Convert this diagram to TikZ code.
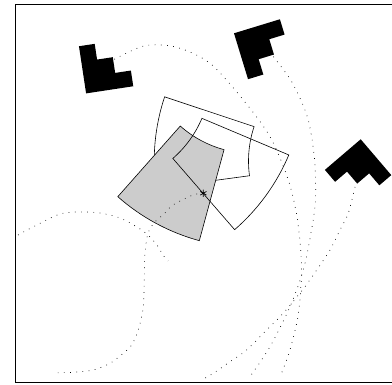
\documentclass[tikz,border=0pt]{standalone}
\usetikzlibrary{plotmarks}

\tikzset{
  fov/.style={draw=black,line width=0.6pt},
  seen/.style={fov,fill=black!20},
  trail/.style={black,line width=0.7pt,dash pattern=on 0.7pt off 5.5pt},
  robot/.pic={\fill (0,0) -- (3,0) -- (3,1) -- (2,1) -- (2,2) -- (1,2) -- (1,3) -- (0,3) -- cycle;}
}

\begin{document}
\begin{tikzpicture}[x=1pt,y=1pt]
  \useasboundingbox (0,0) rectangle (392,385);
  \clip (0,0) rectangle (392,385);
  \draw[line width=0.9pt] (15.3,2.7) rectangle (400,380.7);

  % sensor origin of each robot, and the goal
  \coordinate (r1) at (101.2,309.1);
  \coordinate (r2) at (252.7,340.8);
  \coordinate (r3) at (357.8,223.9);
  \coordinate (goal) at (203.3,191.7);

  % fields of view
  \draw[fov,shift={(r3)}] (161.6:109.3pt) -- (161.6:203.6pt) arc[start angle=161.6,end angle=187.7,radius=203.6pt]
    -- (187.7:109.3pt) arc[start angle=187.7,end angle=161.6,radius=109.3pt] -- cycle;
  \draw[seen,shift={(r2)}] (-131.5:109.3pt) -- (-131.5:203.6pt) arc[start angle=-131.5,end angle=-105.2,radius=203.6pt]
    -- (-105.2:109.3pt) arc[start angle=-105.2,end angle=-131.5,radius=109.3pt] -- cycle;
  \draw[fov,shift={(r1)}] (-49.05:109.3pt) -- (-49.05:203.6pt) arc[start angle=-49.05,end angle=-22.85,radius=203.6pt]
    -- (-22.85:109.3pt) arc[start angle=-22.85,end angle=-49.05,radius=109.3pt] -- cycle;

  % robots
  \pic[rotate=8.6,scale=15.9] at (86.1,291.6) {robot};
  \pic[rotate=-73,scale=16] at (234,351.7) {robot};
  \pic[rotate=220.5,scale=15.7] at (360.7,245.7) {robot};

  % trajectories
  \draw[trail] plot[smooth] coordinates {(114.3,325.7) (145,339.3) (176.7,337.7) (210,321.7) (243.3,285)
    (270,248.3) (288.3,205) (297.5,165) (301.5,118) (298.5,72) (290,35) (280,8)};
  \draw[trail] plot[smooth] coordinates {(273.3,328.3) (291.7,303.3) (307.3,268.3) (314.3,228.3) (315.5,185)
    (311,152) (303.3,115) (290,78.3) (270,38.3) (250,8.3)};
  \draw[trail] plot[smooth] coordinates {(355,198) (348.3,171.7) (340,155) (330,135) (316.7,115) (305,98.3)
    (291.7,81.7) (280,68.3) (263.3,51.7) (246.7,35) (230,23.3) (213.3,11.7) (201.7,5)};
  \draw[trail] plot[smooth] coordinates {(goal) (193,190) (173,180) (163,170) (155,163.3) (148,151.7)
    (145,131.7) (144.3,108.3) (143.3,78.3) (138.3,55) (131.7,40) (123.3,31.7) (110,21.7) (93.3,15)
    (73.3,12.7) (56.7,12.3)};
  \draw[trail] plot[smooth] coordinates {(18,150) (33,158) (60,171) (80,173) (100,172) (120,167) (137,158)
    (148,150) (157,140) (163,130) (168,124)};

  \path plot[mark=asterisk,mark size=3.6pt,mark options={line width=0.7pt}] coordinates {(goal)};
\end{tikzpicture}
\end{document}
